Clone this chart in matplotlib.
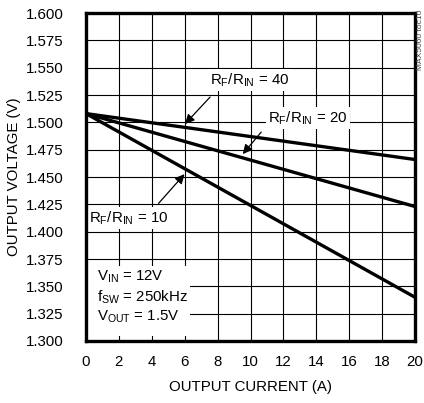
import matplotlib
matplotlib.use("Agg")
import matplotlib.pyplot as plt
from matplotlib.patches import Rectangle
import numpy as np

plt.rcParams['font.family'] = ['Liberation Sans', 'DejaVu Sans']

# output current (A) and output voltage (V) for each droop ratio
current = [0, 20]
v_ratio40 = [1.508, 1.466]
v_ratio20 = [1.508, 1.423]
v_ratio10 = [1.508, 1.340]

xticks = np.arange(0, 21, 2)
yticks = np.arange(1.300, 1.6001, 0.025)

fig = plt.figure(figsize=(4.24, 4.03), dpi=100)
ax = fig.add_axes([86 / 424, 62 / 403, 329 / 424, 328 / 403])

for v in (v_ratio40, v_ratio20, v_ratio10):
    ax.plot(current, v, color='black', lw=2.4, solid_capstyle='butt', zorder=3)

ax.set_xlim(0, 20)
ax.set_ylim(1.3, 1.6)
ax.set_xticks(xticks)
ax.set_yticks(yticks)
ax.set_yticklabels(['%.3f' % t for t in yticks])
ax.grid(True, color='black', lw=0.8)
ax.tick_params(length=0, labelsize=10.8, pad=10)
ax.tick_params(axis='y', pad=16)
for s in ax.spines.values():
    s.set_linewidth(2.4)
    s.set_zorder(5)

ax.set_xlabel('OUTPUT CURRENT (A)', fontsize=10.8)
ax.set_ylabel('OUTPUT VOLTAGE (V)', fontsize=10.8)
ax.xaxis.set_label_coords(0.5, -(380 - 341) / 328)
ax.yaxis.set_label_coords(-(86 - 21) / 329, 0.5)

box = dict(facecolor='white', edgecolor='none', pad=1.5)
arrow = dict(arrowstyle='-|>', color='black', lw=0.9, mutation_scale=14)

ax.text(9.97, 1.539, r'R$_\mathregular{F}$/R$_\mathregular{IN}$ = 40',
        fontsize=10.8, ha='center', va='center', bbox=box, zorder=4)
ax.annotate('', xy=(5.9, 1.4966), xytext=(7.66, 1.525), arrowprops=arrow, zorder=4)

ax.text(13.5, 1.504, r'R$_\mathregular{F}$/R$_\mathregular{IN}$ = 20',
        fontsize=10.8, ha='center', va='center', bbox=box, zorder=4)
ax.annotate('', xy=(9.42, 1.469), xytext=(10.76, 1.493), arrowprops=arrow, zorder=4)

ax.text(2.6, 1.4124, r'R$_\mathregular{F}$/R$_\mathregular{IN}$ = 10',
        fontsize=10.8, ha='center', va='center', bbox=box, zorder=4)
ax.annotate('', xy=(6.1, 1.4545), xytext=(4.3, 1.424), arrowprops=arrow, zorder=4)

ax.add_patch(Rectangle((0, 0.015), 0.316, 0.214, transform=ax.transAxes,
                       facecolor='white', edgecolor='none', zorder=3.5))
ax.text(0.033, 0.05,
        'V$_\\mathregular{IN}$ = 12V\nf$_\\mathregular{SW}$ = 250kHz\nV$_\\mathregular{OUT}$ = 1.5V',
        transform=ax.transAxes, fontsize=10.8, ha='left', va='bottom',
        linespacing=1.2, zorder=4)

fig.text(420 / 424, 1 - 40 / 403, 'MAX5060 toc10', fontsize=6, rotation=90,
         ha='center', va='center', color='#444444')

fig.savefig('out.png', dpi=100)
